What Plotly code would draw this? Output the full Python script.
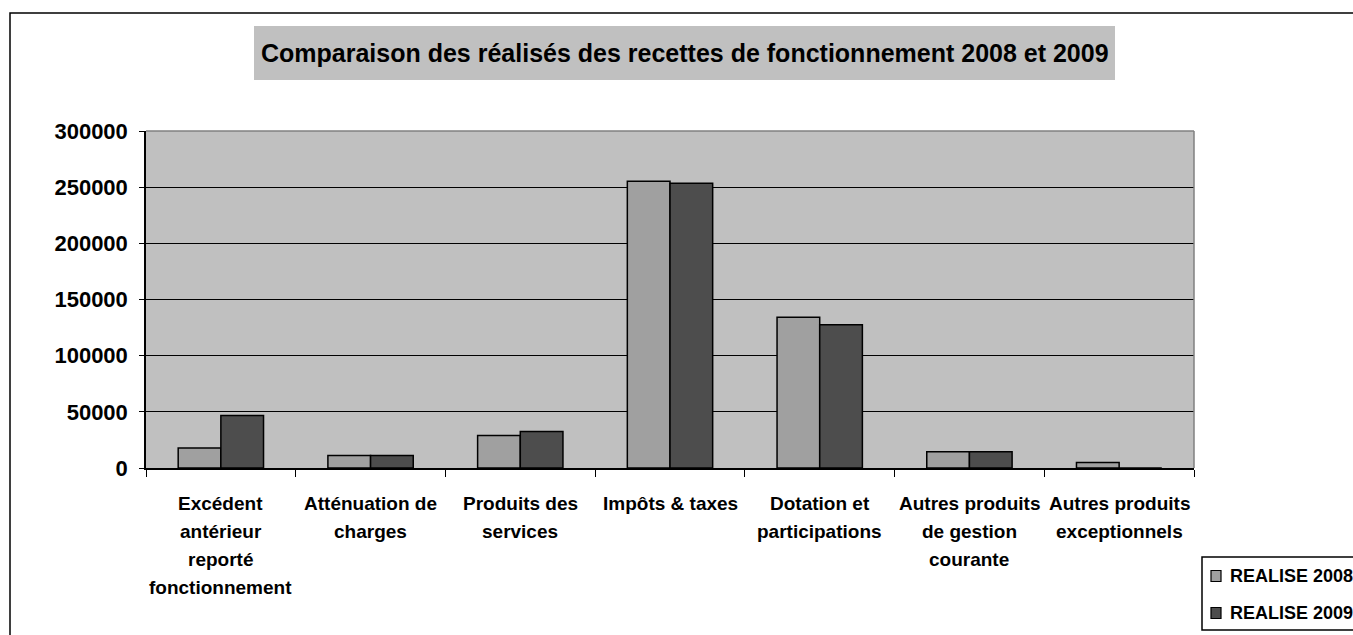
import plotly.graph_objects as go

categories = [
    ["Excédent", "antérieur", "reporté", "fonctionnement"],
    ["Atténuation de", "charges"],
    ["Produits des", "services"],
    ["Impôts & taxes"],
    ["Dotation et", "participations"],
    ["Autres produits", "de gestion", "courante"],
    ["Autres produits", "exceptionnels"],
]
cat_keys = [" ".join(c) for c in categories]
realise_2008 = [17800, 11200, 29000, 255200, 134100, 14500, 5000]
realise_2009 = [46800, 11200, 32600, 253400, 127600, 14500, 0]
series_names = ["REALISE 2008", "REALISE 2009"]
series_colors = ["#a0a0a0", "#4d4d4d"]
y_ticks = [0, 50000, 100000, 150000, 200000, 250000, 300000]
title_text = "Comparaison des réalisés des recettes de fonctionnement 2008 et 2009"

W, H = 1353, 635
L, R, T, B = 146, 1194, 131, 468
pw, ph = R - L, B - T

def px(x):
    # screen pixel -> paper
    return (x - L) / pw

def py(y):
    return (B - y) / ph

FONT = "Liberation Sans, Arial, sans-serif"

fig = go.Figure()
for name, vals, col in zip(series_names, [realise_2008, realise_2009], series_colors):
    fig.add_trace(go.Bar(
        x=cat_keys, y=vals, name=name, showlegend=False,
        marker=dict(color=col, line=dict(color="#000000", width=1.5)),
    ))

annotations = []
line_y0 = 503
line_step = 28
for key, lines in zip(cat_keys, categories):
    for i, ln in enumerate(lines):
        annotations.append(dict(
            x=key, xref="x", y=py(line_y0 + i * line_step), yref="paper",
            text=ln, showarrow=False, xanchor="center", yanchor="middle",
            font=dict(family=FONT, size=19, color="#000000", weight="bold"),
        ))

annotations.append(dict(
    x=px((254 + 1115) / 2), y=py(53), xref="paper", yref="paper",
    text=title_text, showarrow=False, xanchor="center", yanchor="middle",
    font=dict(family=FONT, size=25, color="#000000", weight="bold"),
))

shapes = [
    # title background
    dict(type="rect", xref="paper", yref="paper",
         x0=px(254), x1=px(1115), y0=py(80), y1=py(26),
         fillcolor="#c0c0c0", line=dict(width=0), layer="below"),
    # outer chart border
    dict(type="rect", xref="paper", yref="paper",
         x0=px(10), x1=px(1400), y0=py(680), y1=py(13),
         fillcolor="rgba(0,0,0,0)", line=dict(color="#000000", width=1.5)),
    # plot area border top/right
    dict(type="line", xref="paper", yref="paper", x0=0, x1=1, y0=1, y1=1,
         line=dict(color="#808080", width=1.5)),
    dict(type="line", xref="paper", yref="paper", x0=1, x1=1, y0=0, y1=1,
         line=dict(color="#808080", width=1.5)),
    # legend box
    dict(type="rect", xref="paper", yref="paper",
         x0=px(1202), x1=px(1400), y0=py(630), y1=py(557),
         fillcolor="#ffffff", line=dict(color="#000000", width=1.5)),
]

# legend entries
legend_rows = [576, 613]
for name, col, yc in zip(series_names, series_colors, legend_rows):
    shapes.append(dict(
        type="rect", xref="paper", yref="paper",
        x0=px(1211), x1=px(1221), y0=py(yc + 5.5), y1=py(yc - 5.5),
        fillcolor=col, line=dict(color="#000000", width=1.2),
    ))
    annotations.append(dict(
        x=px(1228), y=py(yc), xref="paper", yref="paper",
        text=name, showarrow=False, xanchor="left", yanchor="middle",
        font=dict(family=FONT, size=18, color="#000000", weight="bold"),
    ))

fig.update_layout(
    width=W, height=H,
    margin=dict(l=L, r=W - R, t=T, b=H - B, pad=0, autoexpand=False),
    paper_bgcolor="#ffffff", plot_bgcolor="#c0c0c0",
    font=dict(family=FONT, color="#000000", weight="bold"),
    barmode="group", bargap=0.43, bargroupgap=0,
    showlegend=False,
    annotations=annotations, shapes=shapes,
    xaxis=dict(
        type="category", categoryorder="array", categoryarray=cat_keys,
        showticklabels=False, ticks="outside", tickson="boundaries",
        ticklen=7, tickcolor="#000000", tickwidth=1,
        showline=True, linecolor="#000000", linewidth=1.5,
        showgrid=False, zeroline=False, range=[-0.5, 6.5],
    ),
    yaxis=dict(
        range=[0, 300000], tickvals=y_ticks, ticktext=[str(v) for v in y_ticks],
        ticks="outside", ticklen=5, tickcolor="#000000", tickwidth=1,
        showline=True, linecolor="#000000", linewidth=1.5,
        showgrid=True, gridcolor="#000000", gridwidth=1,
        zeroline=False, ticklabelstandoff=7,
        tickfont=dict(family=FONT, size=22, color="#000000", weight="bold"),
    ),
)

fig.write_html(
    "out.html",
    config={"displayModeBar": False},
    post_script="document.body.style.margin='0';document.body.style.overflow='hidden';",
)
